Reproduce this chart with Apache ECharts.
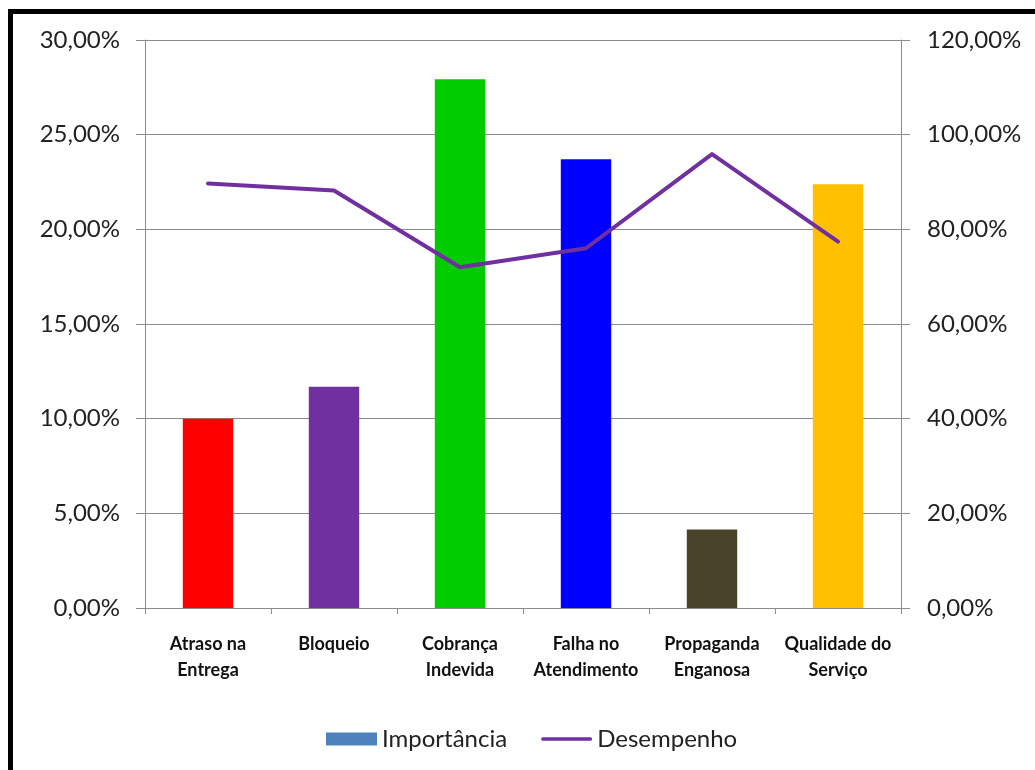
<!DOCTYPE html>
<html>
<head>
<meta charset="utf-8">
<script src="https://cdn.jsdelivr.net/npm/echarts@6/dist/echarts.min.js"></script>
<style>
  html, body { margin: 0; padding: 0; background: #fff; overflow: hidden; }
  #chart { width: 1035px; height: 770px; }
</style>
</head>
<body>
<div id="chart"></div>
<script>
// Categories on the x axis
const categories = [
  'Atraso na\nEntrega',
  'Bloqueio',
  'Cobrança\nIndevida',
  'Falha no\nAtendimento',
  'Propaganda\nEnganosa',
  'Qualidade do\nServiço'
];
// Importância (%) – bars on the left axis
const importancia = [10.0, 11.68, 27.93, 23.7, 4.14, 22.38];
// Desempenho (%) – line on the right axis
const desempenho = [89.7, 88.2, 72.0, 76.0, 95.9, 77.4];
// One colour per bar
const barColors = ['#FF0000', '#7030A0', '#00CC00', '#0000FF', '#494429', '#FFC000'];

const pct = v => v.toFixed(2).replace('.', ',') + '%';
const FONT = 'Lato, "Open Sans", sans-serif';
const gridGrey = '#8c8c8c';

const chart = echarts.init(document.getElementById('chart'), null, { renderer: 'canvas' });

chart.setOption({
  backgroundColor: '#ffffff',
  animation: false,
  graphic: [{
    type: 'rect',
    shape: { x: 10.5, y: 11.5, width: 1200, height: 900 },
    style: { fill: 'none', stroke: '#000', lineWidth: 5 },
    z: 100
  }],
  grid: { left: 145, right: 134, top: 40, bottom: 162, containLabel: false },
  legend: {
    left: 321,
    top: 722,
    itemWidth: 51,
    itemHeight: 13,
    itemGap: 34,
    textStyle: { fontFamily: FONT, fontSize: 24, color: '#222' },
    data: [
      { name: 'Importância', icon: 'rect' },
      { name: 'Desempenho', icon: 'path://M2,0 L53,0 A2,2 0 0 1 53,4 L2,4 A2,2 0 0 1 2,0 Z' }
    ]
  },
  xAxis: {
    type: 'category',
    data: categories,
    axisLine: { lineStyle: { color: gridGrey, width: 1 } },
    axisTick: { show: true, length: 6, alignWithLabel: false, lineStyle: { color: gridGrey } },
    axisLabel: {
      interval: 0,
      margin: 23,
      fontFamily: FONT,
      fontWeight: 'bold',
      fontSize: 18,
      lineHeight: 26,
      color: '#111'
    }
  },
  yAxis: [{
    type: 'value',
    min: 0, max: 30, interval: 5,
    axisLine: { show: true, lineStyle: { color: gridGrey } },
    axisTick: { show: true, length: 9, lineStyle: { color: gridGrey } },
    splitLine: { show: true, lineStyle: { color: gridGrey, width: 1 } },
    axisLabel: { formatter: pct, margin: 25, fontFamily: FONT, fontSize: 24, color: '#222' }
  }, {
    type: 'value',
    min: 0, max: 120, interval: 20,
    position: 'right',
    axisLine: { show: true, lineStyle: { color: gridGrey } },
    axisTick: { show: true, length: 9, lineStyle: { color: gridGrey } },
    splitLine: { show: false },
    axisLabel: { formatter: pct, margin: 26, fontFamily: FONT, fontSize: 24, color: '#222' }
  }],
  series: [{
    name: 'Importância',
    type: 'bar',
    yAxisIndex: 0,
    barWidth: '40%',
    itemStyle: { color: '#4F81BD' },
    data: importancia.map((v, i) => ({ value: v, itemStyle: { color: barColors[i] } }))
  }, {
    name: 'Desempenho',
    type: 'line',
    yAxisIndex: 1,
    symbol: 'none',
    smooth: false,
    itemStyle: { color: '#7030A0' },
    lineStyle: { color: '#7030A0', width: 4, cap: 'round', join: 'round' },
    data: desempenho,
    z: 3
  }]
});
</script>
</body>
</html>
